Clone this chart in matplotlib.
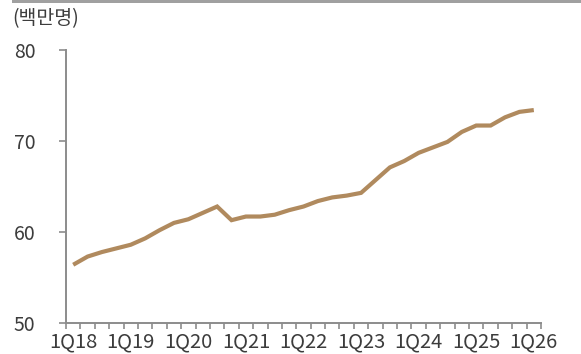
import matplotlib
matplotlib.use("Agg")
import matplotlib.pyplot as plt
from matplotlib.patches import Rectangle
import numpy as np

plt.rcParams['font.family'] = ['Noto Sans CJK KR', 'DejaVu Sans']

# Quarterly series, 1Q18 .. 1Q26 (millions)
quarters = [f"{q}Q{y:02d}" for y in range(18, 27) for q in range(1, 5)][:33]
values = [56.4, 57.3, 57.8, 58.2, 58.6, 59.3, 60.2, 61.0, 61.4, 62.1,
          62.8, 61.3, 61.7, 61.7, 61.9, 62.4, 62.8, 63.4, 63.8, 64.0,
          64.3, 65.7, 67.1, 67.8, 68.7, 69.3, 69.9, 71.0, 71.7, 71.7,
          72.6, 73.2, 73.4]
tick_labels = [q for q in quarters if q.startswith("1Q")]
y_ticks = [50, 60, 70, 80]
unit_label = "(백만명)"

line_color = "#B08A5E"
axis_color = "#8C8C8C"
text_color = "#3C3C3C"

fig = plt.figure(figsize=(5.81, 3.54), dpi=100)
ax = fig.add_axes([66 / 581, 1 - 323 / 354, 475 / 581, 273 / 354])

x = np.arange(len(values))
ax.plot(x, values, color=line_color, lw=3.0, solid_joinstyle="miter",
        solid_capstyle="butt", zorder=3)

ax.set_xlim(-0.5, len(values) - 0.5)
ax.set_ylim(50, 80)

for s in ("top", "right"):
    ax.spines[s].set_visible(False)
for s in ("left", "bottom"):
    ax.spines[s].set_color(axis_color)
    ax.spines[s].set_linewidth(1.4)

ax.set_yticks(y_ticks)
ax.set_yticklabels([str(v) for v in y_ticks], fontsize=14, color=text_color,
                   fontweight="light")
ax.tick_params(axis="y", direction="out", length=5, width=1.2,
               color=axis_color, pad=17)

major_pos = [quarters.index(t) for t in tick_labels]
ax.set_xticks(major_pos)
ax.set_xticklabels(tick_labels, fontsize=14.5, color=text_color,
                   fontweight="light")
ax.set_xticks(np.arange(-0.5, len(values)), minor=True)
ax.tick_params(axis="x", which="major", length=0, pad=6)
ax.tick_params(axis="x", which="minor", direction="out", length=4,
               width=1.2, color=axis_color)

fig.text(12 / 581, 1 - 8 / 354, unit_label, fontsize=14, color=text_color,
         ha="left", va="top", fontweight="light")

fig.add_artist(Rectangle((12 / 581, 1 - 3 / 354), 1, 3 / 354,
                         transform=fig.transFigure, color="#A0A0A0", lw=0))

fig.savefig("out.png", dpi=100)
